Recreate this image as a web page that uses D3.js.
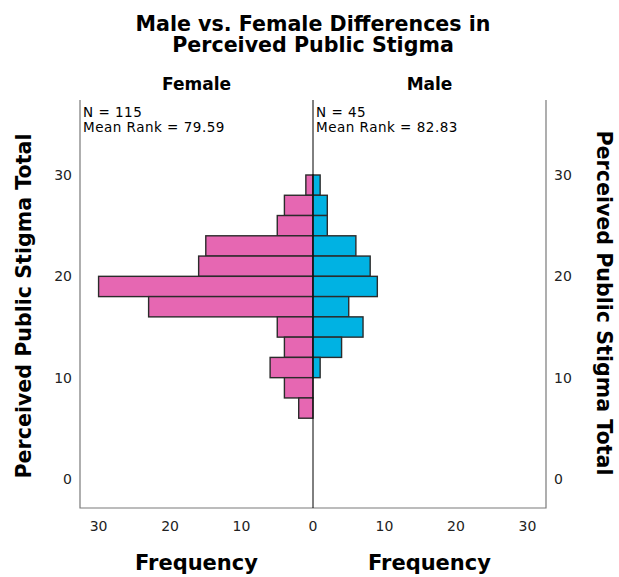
<!DOCTYPE html>
<html lang="en">
<head>
  <meta charset="UTF-8">
  <title>Male vs. Female Differences in Perceived Public Stigma</title>
  <script src="https://cdn.jsdelivr.net/npm/d3@7"></script>
  <style>
    body { margin: 0; background: #fff; }
    svg { display: block; font-family: "DejaVu Sans", sans-serif; }
  </style>
</head>
<body>
<script>
  // bins of width 2 (lower edge), top to bottom
  const binStarts = [28, 26, 24, 22, 20, 18, 16, 14, 12, 10, 8, 6]
  const femaleCounts = [1, 4, 5, 15, 16, 30, 23, 5, 4, 6, 4, 2]
  const maleCounts = [1, 2, 2, 6, 8, 9, 5, 7, 4, 1, 0, 0]
  const binWidth = 2
  const yTicks = [0, 10, 20, 30]
  const xTicks = [0, 10, 20, 30]
  const groups = ['Female', 'Male']
  const statLines = [
    ['N = 115', 'Mean Rank = 79.59'],
    ['N = 45', 'Mean Rank = 82.83']
  ]

  const width = 619
  const height = 577
  const plotL = 80, plotR = 546, plotMid = 313, plotT = 100, plotB = 508

  const y = d3.scaleLinear().domain([-2.86, 37.4]).range([plotB, plotT])
  const xF = d3.scaleLinear().domain([0, 32.6]).range([plotMid, plotL])
  const xM = d3.scaleLinear().domain([0, 32.6]).range([plotMid, plotR])

  const svg = d3.select("body").append("svg")
    .attr("width", width)
    .attr("height", height)

  // title
  svg.append("text")
    .attr("x", 313).attr("y", 31)
    .attr("text-anchor", "middle")
    .attr("font-weight", "bold")
    .attr("font-size", 20.6)
    .call(t => t.append("tspan").attr("x", 313).text("Male vs. Female Differences in"))
    .call(t => t.append("tspan").attr("x", 313).attr("dy", 21).text("Perceived Public Stigma"))

  // panel headers
  svg.selectAll(".grp")
    .data(groups)
    .join("text")
    .attr("class", "grp")
    .attr("x", (d, i) => i === 0 ? (plotL + plotMid) / 2 : (plotMid + plotR) / 2)
    .attr("y", 90)
    .attr("text-anchor", "middle")
    .attr("font-weight", "bold")
    .attr("font-size", 17)
    .text(d => d)

  const bins = binStarts.map((b, i) => ({lo: b, f: femaleCounts[i], m: maleCounts[i]}))

  // female bars
  svg.append("g")
    .selectAll("rect")
    .data(bins.filter(d => d.f > 0))
    .join("rect")
    .attr("x", d => xF(d.f))
    .attr("y", d => y(d.lo + binWidth))
    .attr("width", d => xF(0) - xF(d.f))
    .attr("height", d => y(d.lo) - y(d.lo + binWidth))
    .attr("fill", "#e667b2")
    .attr("stroke", "#2b2b2b")
    .attr("stroke-width", 1.4)

  // male bars
  svg.append("g")
    .selectAll("rect")
    .data(bins.filter(d => d.m > 0))
    .join("rect")
    .attr("x", xM(0))
    .attr("y", d => y(d.lo + binWidth))
    .attr("width", d => xM(d.m) - xM(0))
    .attr("height", d => y(d.lo) - y(d.lo + binWidth))
    .attr("fill", "#00b2e3")
    .attr("stroke", "#2b2b2b")
    .attr("stroke-width", 1.4)

  // frame
  svg.append("path")
    .attr("d", `M${plotL},${plotT}V${plotB}H${plotR}V${plotT}`)
    .attr("fill", "none")
    .attr("stroke", "#7a7a7a")
    .attr("stroke-width", 1.2)
  svg.append("line")
    .attr("x1", plotMid).attr("x2", plotMid)
    .attr("y1", plotT).attr("y2", plotB)
    .attr("stroke", "#000")
    .attr("stroke-width", 1)

  // y tick labels, both sides
  svg.append("g")
    .attr("font-size", 14)
    .attr("fill", "#222")
    .selectAll("text")
    .data(yTicks)
    .join("text")
    .attr("x", 72)
    .attr("y", d => y(d))
    .attr("dy", "0.35em")
    .attr("text-anchor", "end")
    .text(d => d)
  svg.append("g")
    .attr("font-size", 14)
    .attr("fill", "#222")
    .selectAll("text")
    .data(yTicks)
    .join("text")
    .attr("x", 554)
    .attr("y", d => y(d))
    .attr("dy", "0.35em")
    .text(d => d)

  // x tick labels
  const xg = svg.append("g")
    .attr("font-size", 14)
    .attr("fill", "#222")
    .attr("text-anchor", "middle")
  xg.selectAll(".tf")
    .data(xTicks)
    .join("text")
    .attr("class", "tf")
    .attr("x", d => xF(d))
    .attr("y", 531)
    .text(d => d)
  xg.selectAll(".tm")
    .data(xTicks.filter(d => d > 0))
    .join("text")
    .attr("class", "tm")
    .attr("x", d => xM(d))
    .attr("y", 531)
    .text(d => d)

  // axis titles
  svg.selectAll(".freq")
    .data(groups)
    .join("text")
    .attr("class", "freq")
    .attr("x", (d, i) => i === 0 ? (plotL + plotMid) / 2 : (plotMid + plotR) / 2)
    .attr("y", 570)
    .attr("text-anchor", "middle")
    .attr("font-weight", "bold")
    .attr("font-size", 21)
    .text("Frequency")

  svg.append("text")
    .attr("transform", "translate(31,306) rotate(-90)")
    .attr("text-anchor", "middle")
    .attr("font-weight", "bold")
    .attr("font-size", 20.6)
    .text("Perceived Public Stigma Total")
  svg.append("text")
    .attr("transform", "translate(597,303) rotate(90)")
    .attr("text-anchor", "middle")
    .attr("font-weight", "bold")
    .attr("font-size", 20.6)
    .text("Perceived Public Stigma Total")

  // N / mean rank annotations
  statLines.forEach((lines, i) => {
    svg.append("text")
      .attr("font-size", 13.5)
      .attr("letter-spacing", 0.5)
      .attr("fill", "#000")
      .selectAll("tspan")
      .data(lines)
      .join("tspan")
      .attr("x", i === 0 ? 83 : 316)
      .attr("y", (d, j) => 117 + j * 15)
      .text(d => d)
  })
</script>
</body>
</html>
